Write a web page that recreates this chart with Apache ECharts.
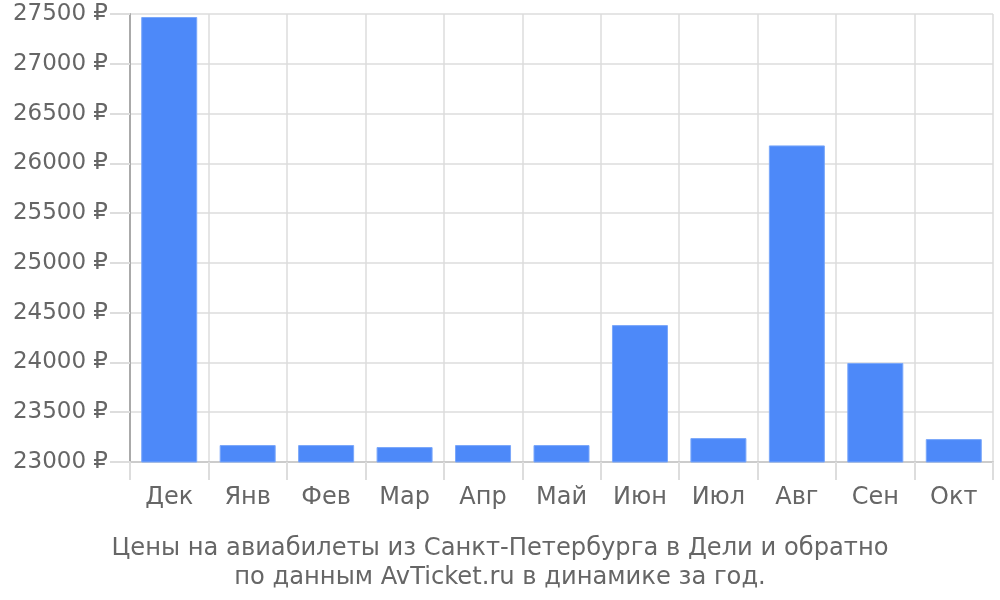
<!DOCTYPE html>
<html><head><meta charset="utf-8">
<script src="https://cdn.jsdelivr.net/npm/echarts@6/dist/echarts.min.js"></script>
<style>html,body{margin:0;padding:0;background:#fff}#c{width:1000px;height:600px}</style>
</head><body><div id="c"></div>
<script>
const categories = ['Дек','Янв','Фев','Мар','Апр','Май','Июн','Июл','Авг','Сен','Окт'];
const prices = [27470, 23170, 23170, 23150, 23170, 23170, 24375, 23240, 26180, 23995, 23230];
const titleLines = ['Цены на авиабилеты из Санкт-Петербурга в Дели и обратно', 'по данным AvTicket.ru в динамике за год.'];
const yMin = 23000, yMax = 27500, yStep = 500;

const FONT = 'DejaVu Sans';
const chart = echarts.init(document.getElementById('c'), null, {renderer: 'canvas'});
chart.setOption({
  animation: false,
  textStyle: {fontFamily: FONT},
  title: {
    text: titleLines.join('\n'), left: 'center', bottom: 3,
    textStyle: {fontFamily: FONT, fontSize: 24.2, fontWeight: 'normal', color: '#666', lineHeight: 29}
  },
  grid: {left: 130, right: 7, top: 14, bottom: 138},
  xAxis: {
    type: 'category', data: categories, boundaryGap: true,
    axisLine: {show: true, lineStyle: {color: '#ccc', width: 2}},
    axisTick: {show: true, length: 18, lineStyle: {color: '#ddd', width: 2}},
    splitLine: {show: true, lineStyle: {color: '#ddd', width: 1.5}},
    axisLabel: {fontFamily: FONT, fontSize: 24, color: '#666', margin: 24}
  },
  yAxis: {
    type: 'value', min: yMin, max: yMax, interval: yStep,
    axisLine: {show: true, lineStyle: {color: '#aaa', width: 2}},
    axisTick: {show: true, length: 20, lineStyle: {color: '#ddd', width: 2}},
    splitLine: {show: true, lineStyle: {color: '#ddd', width: 1.5}},
    axisLabel: {fontFamily: FONT, fontSize: 23, color: '#666', margin: 22, formatter: v => v + ' ₽'}
  },
  series: [{
    type: 'bar', data: prices, barWidth: 56,
    itemStyle: {color: '#4d89f9', borderColor: '#7aa7fa', borderWidth: 1}
  }]
});
// extend the y axis line below the plot to match the tick length
const p0 = chart.convertToPixel({xAxisIndex: 0, yAxisIndex: 0}, [0, yMin]);
const gridRect = chart.getModel().getComponent('grid').coordinateSystem.getRect();
chart.setOption({graphic: [{type: 'line', shape: {x1: gridRect.x, y1: p0[1], x2: gridRect.x, y2: p0[1] + 18}, style: {stroke: '#aaa', lineWidth: 2}}]});
</script></body></html>
